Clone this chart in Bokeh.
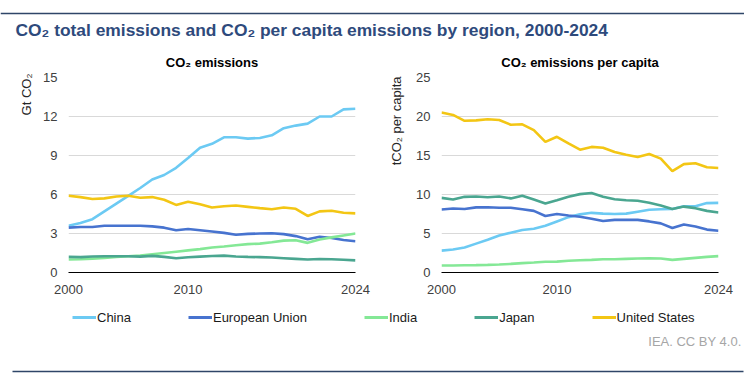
from bokeh.plotting import figure
from bokeh.layouts import column, row
from bokeh.models import Range1d, FixedTicker, Title, Legend, LegendItem
from bokeh.embed import file_html
from bokeh.resources import INLINE
from bokeh.core.properties import value

years = list(range(2000, 2025))
regions = ["China", "European Union", "India", "Japan", "United States"]
colors = ["#6ccaf3", "#4773cf", "#84e896", "#4aa690", "#f3c614"]

# Gt CO2
china_total = [3.6, 3.8, 4.1, 4.7, 5.3, 5.9, 6.5, 7.15, 7.5, 8.05, 8.8, 9.6, 9.9, 10.4, 10.4, 10.3,
               10.35, 10.55, 11.1, 11.3, 11.45, 12.0, 12.0, 12.55, 12.6]
eu_total = [3.45, 3.5, 3.5, 3.6, 3.6, 3.6, 3.6, 3.55, 3.45, 3.25, 3.35, 3.25, 3.15, 3.05, 2.9, 2.97,
            3.0, 3.02, 2.95, 2.8, 2.55, 2.75, 2.65, 2.5, 2.4]
india_total = [1.0, 1.02, 1.07, 1.12, 1.2, 1.25, 1.3, 1.4, 1.5, 1.6, 1.7, 1.8, 1.92, 2.0, 2.1, 2.18,
               2.22, 2.33, 2.45, 2.48, 2.28, 2.54, 2.7, 2.85, 3.0]
japan_total = [1.2, 1.18, 1.23, 1.25, 1.25, 1.25, 1.22, 1.28, 1.2, 1.1, 1.17, 1.22, 1.27, 1.3, 1.23, 1.2,
               1.18, 1.15, 1.1, 1.05, 1.0, 1.04, 1.02, 0.98, 0.93]
us_total = [5.9, 5.8, 5.65, 5.7, 5.85, 5.9, 5.75, 5.8, 5.6, 5.2, 5.45, 5.25, 5.0, 5.1, 5.15, 5.05,
            4.95, 4.87, 5.0, 4.9, 4.35, 4.7, 4.75, 4.6, 4.55]

# t CO2 per capita
china_pc = [2.8, 2.95, 3.2, 3.7, 4.2, 4.75, 5.1, 5.45, 5.6, 6.0, 6.55, 7.1, 7.45, 7.65, 7.55, 7.5,
            7.55, 7.8, 8.05, 8.1, 8.15, 8.5, 8.5, 8.9, 8.93]
eu_pc = [8.08, 8.2, 8.15, 8.35, 8.37, 8.3, 8.3, 8.1, 7.9, 7.25, 7.5, 7.3, 7.15, 6.9, 6.6, 6.75,
         6.75, 6.75, 6.55, 6.3, 5.7, 6.15, 5.9, 5.5, 5.35]
india_pc = [0.9, 0.9, 0.93, 0.95, 0.98, 1.03, 1.1, 1.2, 1.28, 1.37, 1.4, 1.5, 1.58, 1.62, 1.7, 1.7,
            1.75, 1.8, 1.83, 1.8, 1.62, 1.75, 1.88, 2.0, 2.1]
japan_pc = [9.57, 9.35, 9.7, 9.75, 9.65, 9.75, 9.5, 9.85, 9.35, 8.85, 9.27, 9.7, 10.05, 10.2, 9.7, 9.4,
            9.27, 9.2, 8.95, 8.6, 8.15, 8.45, 8.25, 7.9, 7.7]
us_pc = [20.5, 20.2, 19.45, 19.5, 19.65, 19.55, 18.95, 19.0, 18.25, 16.75, 17.4, 16.55, 15.75, 16.1, 16.0, 15.45,
         15.1, 14.8, 15.2, 14.6, 13.0, 13.9, 14.0, 13.5, 13.4]

x_ticks = [2000, 2010, 2024]
left_ticks = [0, 3, 6, 9, 12, 15]
right_ticks = [0, 5, 10, 15, 20, 25]

FONT = "Liberation Sans"
TICK_COLOR = "#404040"
RULE_COLOR = "#2f4668"


def blank_fig(w, h):
    f = figure(width=w, height=h, x_range=Range1d(0, w), y_range=Range1d(h, 0),
               toolbar_location=None, output_backend="svg", min_border=0, title=None)
    f.title = None
    f.axis.visible = False
    f.grid.visible = False
    f.outline_line_color = None
    return f


# ---------- title + top rule ----------
TOP_H = 44
top = blank_fig(744, TOP_H)
top.text(x=[15], y=[29],
         text=["CO₂ total emissions and CO₂ per capita emissions by region, 2000-2024"],
         text_font=value(FONT), text_font_size="17.4px", text_font_style="bold",
         text_color="#2e4a7c", text_align="left", text_baseline="middle")
# top rule drawn as a y-grid line (grids render reliably in the svg output)
top.ygrid.visible = True
top.ygrid.ticker = FixedTicker(ticks=[13])
top.ygrid.grid_line_color = RULE_COLOR
top.ygrid.grid_line_width = 1.5
top.ygrid.bounds = (12, 744)


def panel(title, ymax, yticks, series, ylabel, w, bl, br, lab_standoff, lab_offset):
    p = figure(width=w, height=300 - TOP_H, x_range=Range1d(2000, 2024), y_range=Range1d(0, ymax),
               toolbar_location=None, output_backend="svg",
               min_border_left=bl, min_border_right=br, min_border_top=77 - TOP_H,
               min_border_bottom=28, title=title)
    p.title.align = "center"
    p.title.text_font = FONT
    p.title.text_font_size = "13px"
    p.title.text_font_style = "bold"
    p.title.text_color = "#000000"
    p.title.standoff = 15
    p.outline_line_color = None
    p.xgrid.visible = False
    p.ygrid.grid_line_color = "#d9d9d9"
    p.ygrid.grid_line_width = 1
    p.xaxis.ticker = FixedTicker(ticks=x_ticks)
    p.yaxis.ticker = FixedTicker(ticks=yticks)
    for ax in (p.xaxis, p.yaxis):
        ax.major_tick_line_color = None
        ax.minor_tick_line_color = None
        ax.major_tick_out = 0
        ax.major_tick_in = 0
        ax.major_label_text_font = FONT
        ax.major_label_text_font_size = "13px"
        ax.major_label_text_color = TICK_COLOR
    p.yaxis.axis_line_color = None
    p.yaxis.major_label_standoff = 11
    p.xaxis.axis_line_color = "#000000"
    p.xaxis.axis_line_width = 1.2
    p.xaxis.major_label_standoff = 12
    for vals, c in zip(series, colors):
        p.line(years, vals, line_color=c, line_width=2.6)
    p.add_layout(Title(text=ylabel, align="right", text_font=FONT, text_font_size="13px",
                       text_font_style="normal", text_color="#262626",
                       standoff=lab_standoff, offset=lab_offset), "left")
    return p


left = panel("CO₂ emissions", 15, left_ticks,
             [china_total, eu_total, india_total, japan_total, us_total],
             "Gt CO₂", 376, 68, 21, 13, -4)
right = panel("CO₂ emissions per capita", 25, right_ticks,
              [china_pc, eu_pc, india_pc, japan_pc, us_pc],
              "tCO₂ per capita", 368, 62, 26, 20, -1)

# ---------- bottom (legend + credit) ----------
bot = blank_fig(744, 78)
items = []
for name, c in zip(regions, colors):
    r = bot.line(x=[-20, -10], y=[-20, -20], line_color=c, line_width=3)
    items.append(LegendItem(label=name, renderers=[r]))
legend = Legend(items=items, orientation="horizontal", location=(72, 51),
                glyph_width=24, glyph_height=20, label_height=20, label_standoff=1,
                spacing=57, padding=0, margin=0, border_line_color=None,
                background_fill_alpha=0, label_text_font=FONT, label_text_font_size="13px",
                label_text_color="#1a1a1a")
bot.add_layout(legend)
bot.text(x=[741], y=[41], text=["IEA. CC BY 4.0."], text_font=value(FONT), text_font_size="13px",
         text_color="#a6a6a6", text_align="right", text_baseline="middle")
bot.line(x=[12, 743], y=[71, 71], line_color=RULE_COLOR, line_width=1.5)

layout = column(top, row(left, right), bot)
open("out.html", "w").write(file_html(layout, INLINE))
